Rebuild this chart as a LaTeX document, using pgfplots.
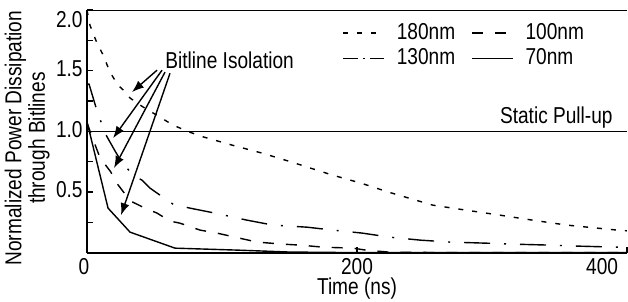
\documentclass[border=0pt]{standalone}
\usepackage{fontspec}
\setmainfont{Liberation Sans}[FakeStretch=0.83]
\usepackage{pgfplots}
\pgfplotsset{compat=1.18}
\usetikzlibrary{arrows.meta}
\begin{document}
\fontsize{11.5}{9.5}\selectfont
\begin{tikzpicture}
\begin{axis}[
  width=270pt, height=121.25pt, scale only axis,
  xmin=0, xmax=400, ymin=0, ymax=2,
  axis x line*=bottom, axis y line*=left,
  axis line style={-, line width=1pt},
  xtick={0,200,400},
  xticklabels={{\makebox[0pt]{0\hspace{3pt}}},200,{\makebox[0pt][r]{400\hspace{4.5pt}}}},
  ytick={0.5,1,1.5,2},
  yticklabels={0.5,1.0,1.5,{\raisebox{-5.5pt}[\height][\depth]{2.0}}},
  minor ytick={0.25,0.75,1.25,1.75},
  tick align=inside, major tick length=3pt, minor tick length=3pt,
  tick style={line width=0.7pt, black},
  yticklabel style={inner sep=0pt, xshift=-2pt, yshift=1pt},
  xticklabel style={inner sep=0pt, yshift=-2.5pt},
  xlabel={Time (ns)},
  xlabel style={inner sep=0pt, yshift=-1.5pt},
  ylabel={Normalized Power Dissipation\\through Bitlines},
  ylabel style={align=center, at={(axis description cs:-0.0685,0.472)}, anchor=south, inner sep=0pt},
  legend columns=2,
  legend image code/.code={\path (-8pt,0pt); \draw[#1] (0pt,0pt) -- (20.5pt,0pt); \path (26.5pt,0pt);},
  legend style={draw=none, fill=none, at={(rel axis cs:0.4426,0.947)}, anchor=north west,
    inner sep=0pt, row sep=2.8pt, column sep=0pt, nodes={inner sep=0pt}},
  legend cell align=left,
]
\addplot[black, line width=0.7pt, dash pattern=on 2.5pt off 4.5pt] coordinates {
(0,2.0) (2.2,1.876) (7.4,1.728) (12,1.629) (17,1.489) (23,1.381) (27,1.34) (32,1.274)
(41,1.205) (54,1.118) (63.7,1.052) (76,0.994) (86,0.955) (107.4,0.887) (129.6,0.821)
(151.9,0.746) (172.6,0.672) (182,0.639) (203,0.573) (224,0.497) (256,0.392) (281,0.35)
(306,0.309) (330,0.268) (355.5,0.227) (392.6,0.186) (400,0.18)};
\addlegendentry{180nm}
\addplot[black, line width=0.7pt, dash pattern=on 5.5pt off 6pt] coordinates {
(0,1.07) (5.2,0.913) (8.9,0.804) (13.9,0.72) (17.6,0.666) (21.3,0.584) (25,0.53)
(30.4,0.45) (34,0.416) (43,0.367) (51.9,0.326) (61.5,0.26) (68.9,0.243) (83.7,0.186)
(96.3,0.161) (126,0.087) (145,0.07) (158,0.062) (175,0.045) (197,0.037) (207,0.02)
(224,0.004) (269,0) (400,0)};
\addlegendentry{100nm}
\addplot[black, line width=0.7pt, dash pattern=on 13pt off 7pt on 1pt off 7pt,
  legend image code/.code={\path (-8pt,0pt); \draw[black, line width=0.7pt, dash pattern=on 7.5pt off 2.5pt on 1pt off 2.5pt] (0pt,0pt) -- (20.5pt,0pt); \path (26.5pt,0pt);}] coordinates {
(0,1.39) (1.5,1.39) (7.4,1.17) (13.6,0.98) (21.2,0.83) (25.9,0.746) (34.1,0.639)
(40.7,0.598) (46.7,0.532) (54.1,0.474) (63.7,0.40) (76.3,0.367) (94.8,0.326)
(118.5,0.268) (137.8,0.227) (163,0.21) (182,0.186) (204,0.161) (224,0.128) (247,0.103)
(269,0.087) (296,0.078) (316,0.07) (343,0.062) (363,0.054) (393,0.045) (400,0.044)};
\addlegendentry{130nm}
\addplot[black, line width=0.7pt] coordinates {
(0,1.08) (15.6,0.367) (31.9,0.169) (65.2,0.037) (111,0.021) (150,0.005) (200,0) (400,0)};
\addlegendentry{70nm}
\addplot[black, line width=0.8pt, forget plot] coordinates {(0,1) (400,1)};
\draw[line width=1pt] (rel axis cs:0,1) -- (rel axis cs:1,1);
\node[anchor=base west, inner sep=0pt] at (axis cs:57.8,1.522) {Bitline Isolation};
\node[anchor=base east, inner sep=0pt] at (axis cs:389.6,1.068) {Static Pull-up};
\draw[-{Latex[length=6pt,width=4.5pt]}, line width=0.7pt] (axis cs:51.9,1.505) -- (axis cs:33.3,1.324);
\draw[-{Latex[length=6pt,width=4.5pt]}, line width=0.7pt] (axis cs:55.6,1.505) -- (axis cs:19.3,0.944);
\draw[-{Latex[length=6pt,width=4.5pt]}, line width=0.7pt] (axis cs:57.8,1.489) -- (axis cs:20.0,0.697);
\draw[-{Latex[length=6pt,width=4.5pt]}, line width=0.7pt] (axis cs:61.5,1.480) -- (axis cs:25.2,0.309);
\end{axis}
\path (-43.5pt,-24.25pt) rectangle (270.5pt,124pt);
\end{tikzpicture}
\end{document}
